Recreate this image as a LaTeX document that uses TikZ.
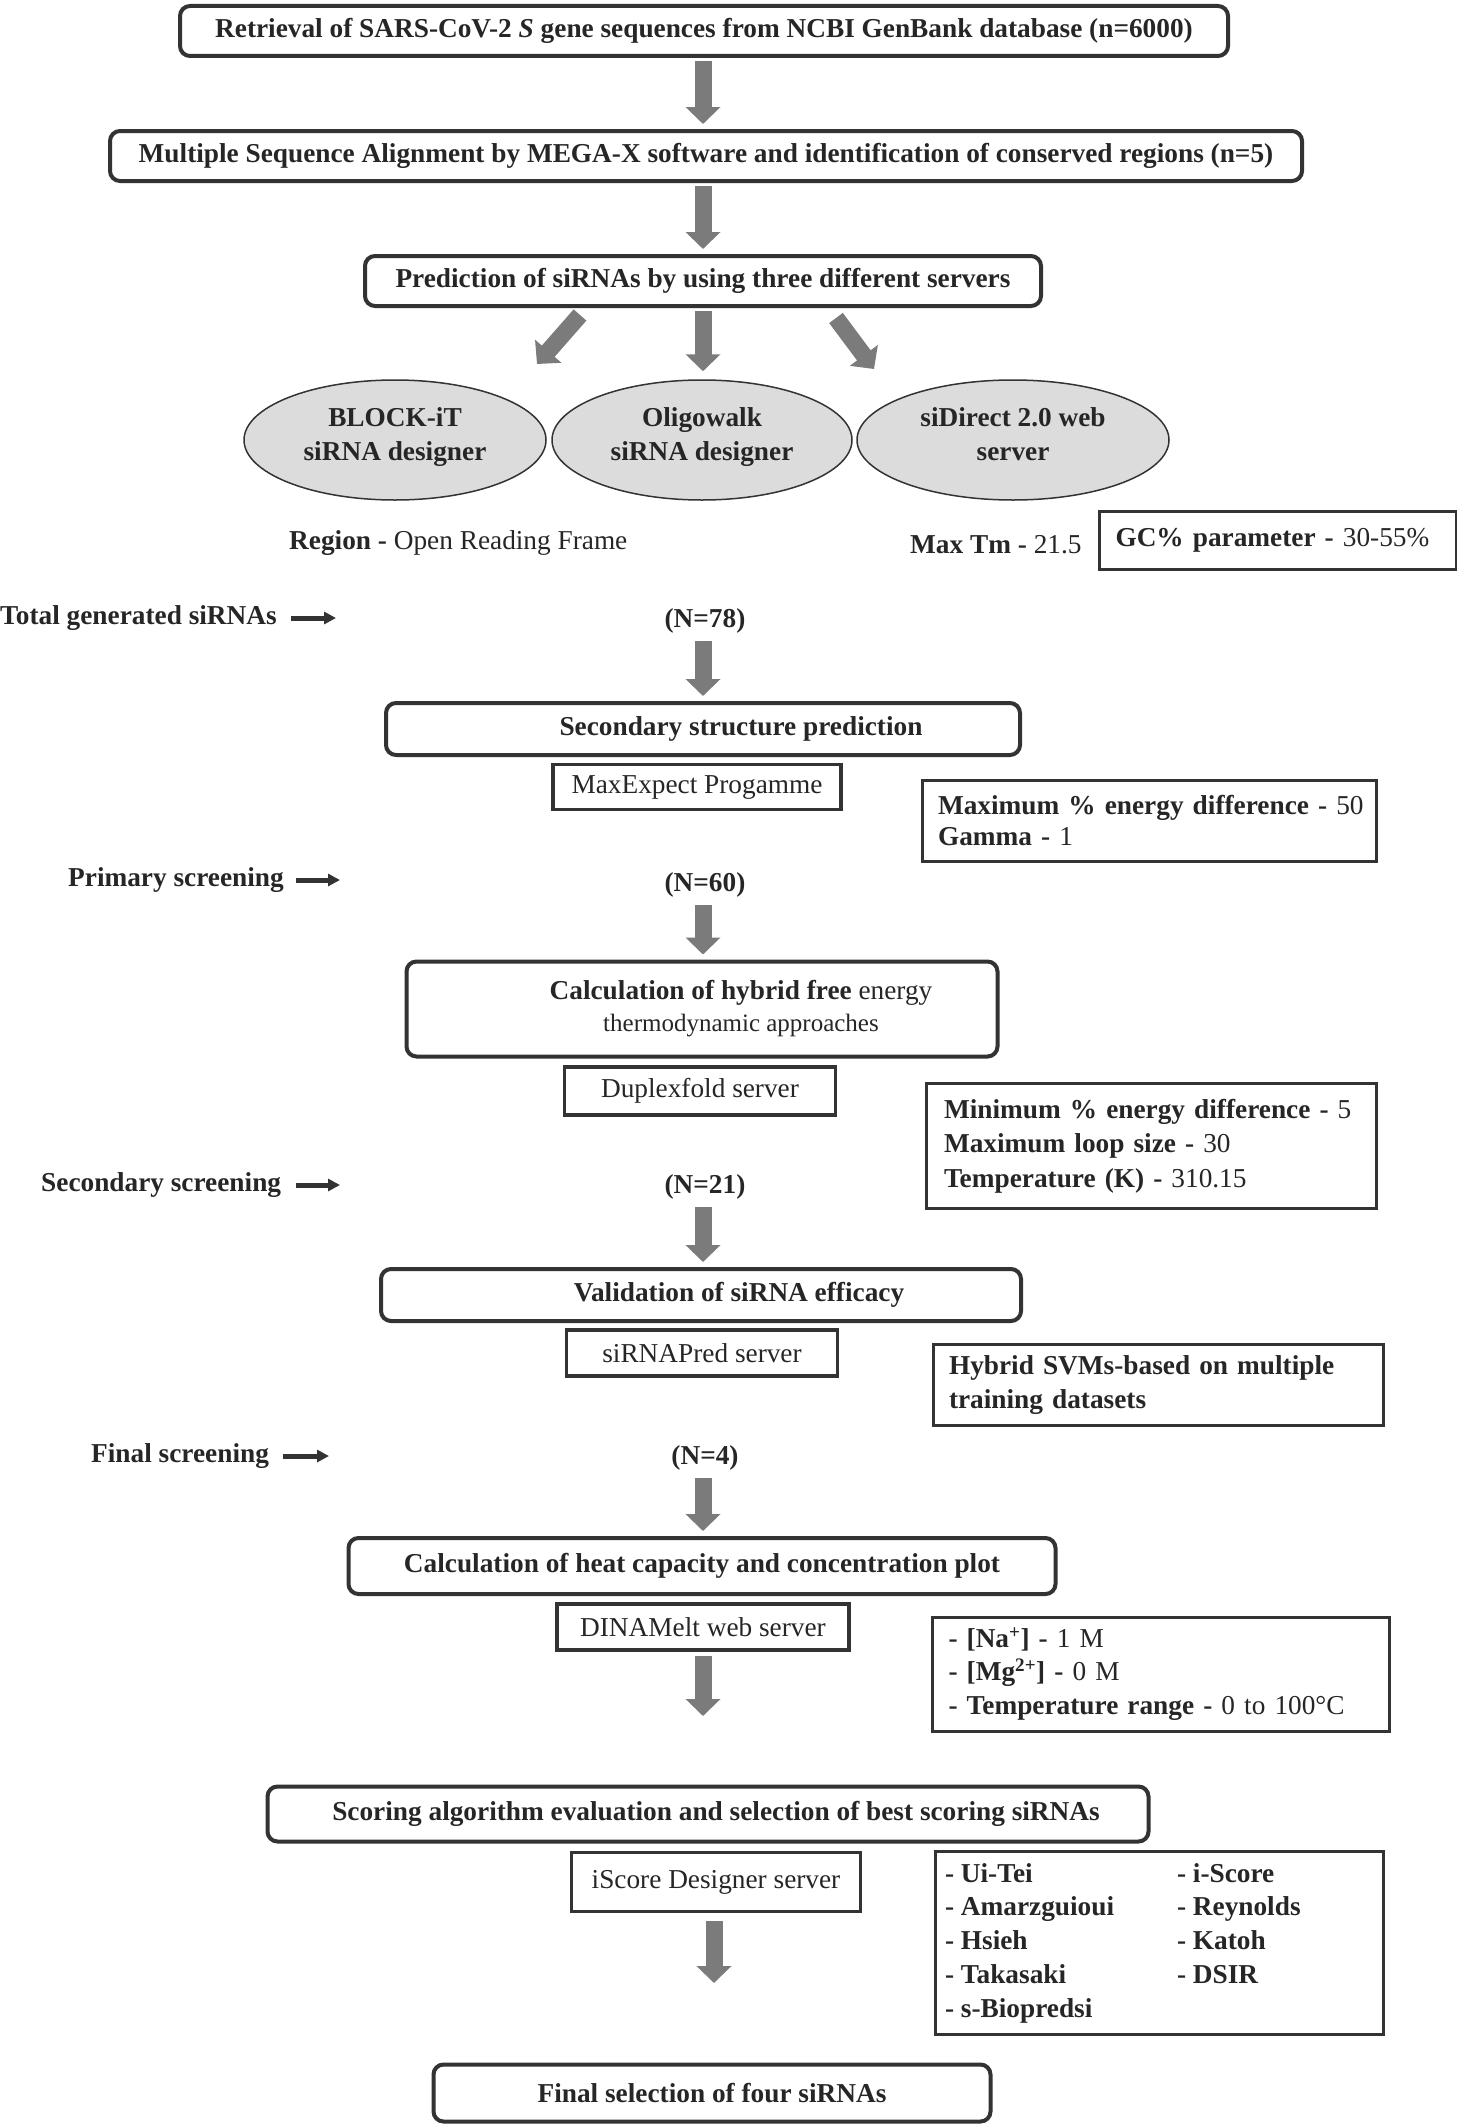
\documentclass[tikz,border=0pt]{standalone}
\usepackage{fontspec}
\setmainfont{Liberation Serif}
\usetikzlibrary{arrows.meta,shapes.geometric}
\definecolor{bord}{HTML}{333333}
\definecolor{arr}{HTML}{7B7B7B}
\definecolor{ellfill}{HTML}{DCDCDC}
\definecolor{txt}{HTML}{262626}
\newcommand{\dstrut}{\rule[-12pt]{0pt}{1pt}}
\begin{document}
\begin{tikzpicture}[x=1pt,y=-1pt,
  every node/.style={text=txt,font=\fontsize{27.3}{31}\selectfont,inner sep=0pt},
  mainbox/.style={draw=bord,line width=4pt,rounded corners=10pt,fill=white,
    font=\fontsize{27.3}{32}\selectfont\bfseries,align=center},
  subbox/.style={draw=bord,line width=3.5pt,fill=white},
  parbox/.style={draw=bord,line width=3pt,fill=white,align=left,inner xsep=16pt},
  ellnode/.style={ellipse,draw=bord,line width=1.5pt,fill=ellfill,minimum height=120pt,
    align=center,font=\fontsize{27.3}{34}\selectfont\bfseries},
  bigarrow/.style={draw=arr,line width=17pt,-{Triangle[length=17pt,width=34pt]}},
  smallarrow/.style={draw=bord,line width=5pt,-{Triangle[length=12pt,width=12pt]}},
  lbl/.style={font=\fontsize{27.3}{31}\selectfont\bfseries,anchor=west},
  nlbl/.style={font=\fontsize{27.3}{31}\selectfont\bfseries},
]
\useasboundingbox (0,0) rectangle (1456,2125);

% ---- top boxes
\node[mainbox,minimum width=1048pt,minimum height=50pt] (b1) at (704,31)
  {Retrieval of SARS-CoV-2 \textit{S} gene sequences from NCBI GenBank database (n=6000)};
\node[mainbox,minimum width=1192pt,minimum height=50pt] (b2) at (706,156)
  {Multiple Sequence Alignment by MEGA-X software and identification of conserved regions (n=5)};
\node[mainbox,minimum width=676pt,minimum height=50pt] (b3) at (703,281)
  {Prediction of siRNAs by using three different servers};
\draw[bigarrow,shorten <=3pt,shorten >=5pt] (b1.south -| 703,0) -- (b2.north -| 703,0);
\draw[bigarrow,shorten <=3pt,shorten >=5pt] (b2.south -| 703,0) -- (b3.north -| 703,0);

% ---- ellipses
\node[ellnode,minimum width=302pt] (e1) at (395,440) {BLOCK-iT\\siRNA designer\dstrut};
\node[ellnode,minimum width=300pt] (e2) at (702,440) {Oligowalk\\siRNA designer\dstrut};
\node[ellnode,minimum width=312pt] (e3) at (1013,440) {siDirect 2.0 web\\server\dstrut};
\coordinate (la) at (580,315); \coordinate (lb) at (537,364);
\coordinate (ra) at (836,318); \coordinate (rb) at (874,369);
\draw[bigarrow] (la) -- (lb);
\draw[bigarrow,shorten <=3pt,shorten >=8pt] (b3.south -| 703,0) -- (e2.north -| 703,0);
\draw[bigarrow] (ra) -- (rb);

\node[anchor=west] (reg) at (289,543) {\textbf{Region -} Open Reading Frame};
\node[anchor=west] (tm) at (910,545) {\textbf{Max Tm -} 21.5};
\node[parbox,minimum width=357pt,minimum height=58pt,text width=325pt,anchor=west] (gc) at (1098,540)
  {\textbf{GC\% parameter -} 30-55\%};

% ---- total generated
\node[lbl] (tg) at (0,618) {Total generated siRNAs};
\coordinate (tga) at (336,618);
\draw[smallarrow] (291,618) -- (tga);
\node[nlbl] (n78) at (705,621) {(N=78)};
\node[mainbox,minimum width=634pt,minimum height=52pt] (sb) at (703,729)
  {\hspace*{76pt}Secondary structure prediction};
\draw[bigarrow,shorten <=7pt,shorten >=5pt] (n78.south -| 703,0) -- (sb.north -| 703,0);
\node[subbox,minimum width=288pt,minimum height=45pt] (mx) at (697,787) {MaxExpect Progamme};
\node[parbox,minimum width=454pt,minimum height=81pt,text width=440pt,inner xsep=7pt] (p1) at (1149,821)
  {\hspace*{9pt}\textbf{Maximum \% energy difference -} 50\\\hspace*{9pt}\textbf{Gamma -} 1};

% ---- primary screening
\node[lbl] (ps) at (68,880) {Primary screening};
\coordinate (psa) at (340,880);
\draw[smallarrow] (296,880) -- (psa);
\node[nlbl] (n60) at (705,885) {(N=60)};
\node[mainbox,minimum width=591pt,minimum height=95pt] (cb) at (702,1009)
  {\hspace*{78pt}Calculation of hybrid free \mdseries energy\\
   \hspace*{78pt}\mdseries\fontsize{25}{32}\selectfont thermodynamic approaches};
\draw[bigarrow,shorten <=7pt,shorten >=5pt] (n60.south -| 703,0) -- (cb.north -| 703,0);
\node[subbox,minimum width=271pt,minimum height=48pt] (dp) at (700,1091) {Duplexfold server};
\node[parbox,minimum width=450pt,minimum height=125pt,text width=436pt,inner xsep=7pt,
  font=\fontsize{27.3}{34.5}\selectfont] (p2) at (1151,1146)
  {\hspace*{11pt}\textbf{Minimum \% energy difference -} 5\\\hspace*{11pt}\textbf{Maximum loop size -} 30\\\hspace*{11pt}\textbf{Temperature (K) -} 310.15};

% ---- secondary screening
\node[lbl] (ss) at (41,1185) {Secondary screening};
\coordinate (ssa) at (340,1185);
\draw[smallarrow] (296,1185) -- (ssa);
\node[nlbl] (n21) at (705,1187) {(N=21)};
\node[mainbox,minimum width=640pt,minimum height=52pt] (vb) at (701,1295)
  {\hspace*{76pt}Validation of siRNA efficacy};
\draw[bigarrow,shorten <=7pt,shorten >=5pt] (n21.south -| 703,0) -- (vb.north -| 703,0);
\node[subbox,minimum width=271pt,minimum height=46pt] (sp) at (702,1353) {siRNAPred server};
\node[parbox,minimum width=450pt,minimum height=81pt,text width=418pt,
  font=\fontsize{27.3}{34}\selectfont\bfseries] (p3) at (1158,1385)
  {\raisebox{-3pt}{Hybrid SVMs-based on multiple}\\\raisebox{-3pt}{training datasets}};

% ---- final screening
\node[lbl] (fs) at (91,1456) {Final screening};
\coordinate (fsa) at (329,1456);
\draw[smallarrow] (283,1456) -- (fsa);
\node[nlbl] (n4) at (705,1458) {(N=4)};
\node[mainbox,minimum width=707pt,minimum height=56pt] (hb) at (702,1566)
  {Calculation of heat capacity and concentration plot};
\draw[bigarrow,shorten <=7pt,shorten >=5pt] (n4.south -| 703,0) -- (hb.north -| 703,0);
\node[subbox,minimum width=292pt,minimum height=46pt] (dm) at (703,1627) {DINAMelt web server};
\coordinate (dme) at (703,1716);
\draw[bigarrow,shorten <=4pt] (dm.south -| 703,0) -- (dme);
\node[parbox,minimum width=457pt,minimum height=114pt,text width=425pt,
  font=\fontsize{27.3}{33.5}\selectfont] (p4) at (1161,1674)
  {\textbf{- [Na\textsuperscript{+}] -} 1 M\\\textbf{- [Mg\textsuperscript{2+}] -} 0 M\\\textbf{- Temperature range -} 0 to 100°C};

% ---- scoring
\node[mainbox,minimum width=881pt,minimum height=55pt] (scb) at (708,1814)
  {\hspace*{16pt}Scoring algorithm evaluation and selection of best scoring siRNAs};
\node[subbox,minimum width=289pt,minimum height=59pt] (isb) at (716,1882) {\raisebox{2pt}{iScore Designer server}};
\coordinate (ise) at (714,1983);
\draw[bigarrow,shorten <=8pt] (isb.south -| 714,0) -- (ise);
\node[draw=bord,line width=3pt,fill=white,minimum width=448pt,minimum height=183pt,
  font=\fontsize{27.3}{33.8}\selectfont\bfseries] (p5) at (1159,1943)
  {\raisebox{-5pt}{\begin{tabular}{@{}p{232pt}@{}p{196pt}@{}}
   - Ui-Tei & - i-Score\\
   - Amarzguioui & - Reynolds\\
   - Hsieh & - Katoh\\
   - Takasaki & - DSIR\\
   - s-Biopredsi & \end{tabular}}};

\node[mainbox,minimum width=557pt,minimum height=57pt] (fb) at (712,2093)
  {Final selection of four siRNAs};
\end{tikzpicture}
\end{document}
